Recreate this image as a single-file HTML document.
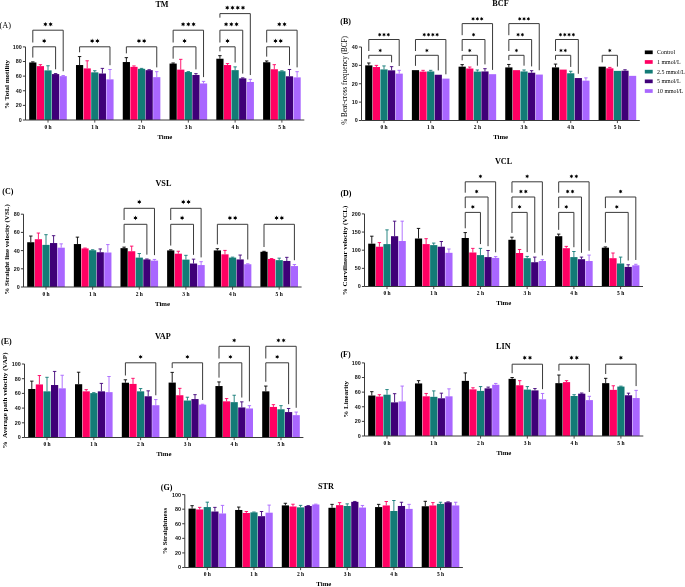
<!DOCTYPE html>
<html><head><meta charset="utf-8"><title>Figure</title>
<style>
html,body{margin:0;padding:0;background:#fff;}
body{width:685px;height:587px;overflow:hidden;}
svg{display:block;will-change:transform;filter:blur(0.3px);}
text{font-family:"Liberation Serif",serif;fill:#000;}
.yt{font-family:"Liberation Sans",sans-serif;font-weight:bold;font-size:5.4px;text-anchor:end;fill:#111;}
.xt{font-weight:bold;font-size:5.5px;text-anchor:middle;}
.tm{font-weight:bold;font-size:6.8px;text-anchor:middle;}
.ti{font-weight:bold;font-size:8.2px;text-anchor:middle;}
.le{font-weight:bold;font-size:8px;}
.leA{font-size:8.3px;}
.yl{font-weight:bold;font-size:7px;text-anchor:middle;}
.ylB{font-size:7.2px;text-anchor:middle;}
.ylE{font-weight:bold;font-size:7.1px;text-anchor:middle;}
.ylG{font-weight:bold;font-size:7.1px;text-anchor:middle;}
.lg{font-size:5.9px;}
</style></head>
<body>
<svg width="685" height="587" viewBox="0 0 685 587">
<rect width="685" height="587" fill="#fff"/>
<rect x="29.2" y="62.47" width="7.2" height="57.53" fill="#000000"/>
<path d="M32.8 62.47V61.89M31.1 61.89H34.5" stroke="#000000" stroke-width="0.9" fill="none"/>
<rect x="36.8" y="66.13" width="7.2" height="53.87" fill="#FF0062"/>
<path d="M40.4 66.13V64.66M38.7 64.66H42.1" stroke="#FF0062" stroke-width="0.9" fill="none"/>
<rect x="44.4" y="70.37" width="7.2" height="49.63" fill="#137B76"/>
<path d="M48 70.37V65.76M46.3 65.76H49.7" stroke="#137B76" stroke-width="0.9" fill="none"/>
<rect x="52" y="74.09" width="7.2" height="45.91" fill="#3F0078"/>
<path d="M55.6 74.09V73.58M53.9 73.58H57.3" stroke="#3F0078" stroke-width="0.9" fill="none"/>
<rect x="59.6" y="76.14" width="7.2" height="43.86" fill="#A966FF"/>
<path d="M63.2 76.14V75.56M61.5 75.56H64.9" stroke="#A966FF" stroke-width="0.9" fill="none"/>
<rect x="75.98" y="65.03" width="7.2" height="54.97" fill="#000000"/>
<path d="M79.58 65.03V56.55M77.88 56.55H81.28" stroke="#000000" stroke-width="0.9" fill="none"/>
<rect x="83.58" y="68.39" width="7.2" height="51.61" fill="#FF0062"/>
<path d="M87.18 68.39V60.79M85.48 60.79H88.88" stroke="#FF0062" stroke-width="0.9" fill="none"/>
<rect x="91.18" y="72.34" width="7.2" height="47.66" fill="#137B76"/>
<path d="M94.78 72.34V70.73M93.08 70.73H96.48" stroke="#137B76" stroke-width="0.9" fill="none"/>
<rect x="98.78" y="73.51" width="7.2" height="46.49" fill="#3F0078"/>
<path d="M102.38 73.51V68.39M100.68 68.39H104.08" stroke="#3F0078" stroke-width="0.9" fill="none"/>
<rect x="106.38" y="79.36" width="7.2" height="40.64" fill="#A966FF"/>
<path d="M109.98 79.36V69.49M108.28 69.49H111.68" stroke="#A966FF" stroke-width="0.9" fill="none"/>
<rect x="122.76" y="62.03" width="7.2" height="57.97" fill="#000000"/>
<path d="M126.36 62.03V57.65M124.66 57.65H128.06" stroke="#000000" stroke-width="0.9" fill="none"/>
<rect x="130.36" y="66.86" width="7.2" height="53.14" fill="#FF0062"/>
<path d="M133.96 66.86V65.91M132.26 65.91H135.66" stroke="#FF0062" stroke-width="0.9" fill="none"/>
<rect x="137.96" y="68.83" width="7.2" height="51.17" fill="#137B76"/>
<path d="M141.56 68.83V68.39M139.86 68.39H143.26" stroke="#137B76" stroke-width="0.9" fill="none"/>
<rect x="145.56" y="70.15" width="7.2" height="49.85" fill="#3F0078"/>
<path d="M149.16 70.15V69.71M147.46 69.71H150.86" stroke="#3F0078" stroke-width="0.9" fill="none"/>
<rect x="153.16" y="77.16" width="7.2" height="42.84" fill="#A966FF"/>
<path d="M156.76 77.16V71.68M155.06 71.68H158.46" stroke="#A966FF" stroke-width="0.9" fill="none"/>
<rect x="169.54" y="63.57" width="7.2" height="56.43" fill="#000000"/>
<path d="M173.14 63.57V62.98M171.44 62.98H174.84" stroke="#000000" stroke-width="0.9" fill="none"/>
<rect x="177.14" y="69.63" width="7.2" height="50.37" fill="#FF0062"/>
<path d="M180.74 69.63V59.33M179.04 59.33H182.44" stroke="#FF0062" stroke-width="0.9" fill="none"/>
<rect x="184.74" y="72.05" width="7.2" height="47.95" fill="#137B76"/>
<path d="M188.34 72.05V71.61M186.64 71.61H190.04" stroke="#137B76" stroke-width="0.9" fill="none"/>
<rect x="192.34" y="74.97" width="7.2" height="45.03" fill="#3F0078"/>
<path d="M195.94 74.97V73.65M194.24 73.65H197.64" stroke="#3F0078" stroke-width="0.9" fill="none"/>
<rect x="199.94" y="83.45" width="7.2" height="36.55" fill="#A966FF"/>
<path d="M203.54 83.45V81.4M201.84 81.4H205.24" stroke="#A966FF" stroke-width="0.9" fill="none"/>
<rect x="216.32" y="58.74" width="7.2" height="61.26" fill="#000000"/>
<path d="M219.92 58.74V55.67M218.22 55.67H221.62" stroke="#000000" stroke-width="0.9" fill="none"/>
<rect x="223.92" y="65.03" width="7.2" height="54.97" fill="#FF0062"/>
<path d="M227.52 65.03V63.57M225.82 63.57H229.22" stroke="#FF0062" stroke-width="0.9" fill="none"/>
<rect x="231.52" y="70.15" width="7.2" height="49.85" fill="#137B76"/>
<path d="M235.12 70.15V66.86M233.42 66.86H236.82" stroke="#137B76" stroke-width="0.9" fill="none"/>
<rect x="239.12" y="78.33" width="7.2" height="41.67" fill="#3F0078"/>
<path d="M242.72 78.33V77.89M241.02 77.89H244.42" stroke="#3F0078" stroke-width="0.9" fill="none"/>
<rect x="246.72" y="81.99" width="7.2" height="38.01" fill="#A966FF"/>
<path d="M250.32 81.99V79.36M248.62 79.36H252.02" stroke="#A966FF" stroke-width="0.9" fill="none"/>
<rect x="263.1" y="62.25" width="7.2" height="57.75" fill="#000000"/>
<path d="M266.7 62.25V60.94M265 60.94H268.4" stroke="#000000" stroke-width="0.9" fill="none"/>
<rect x="270.7" y="69.27" width="7.2" height="50.73" fill="#FF0062"/>
<path d="M274.3 69.27V64.66M272.6 64.66H276" stroke="#FF0062" stroke-width="0.9" fill="none"/>
<rect x="278.3" y="71.24" width="7.2" height="48.76" fill="#137B76"/>
<path d="M281.9 71.24V70.8M280.2 70.8H283.6" stroke="#137B76" stroke-width="0.9" fill="none"/>
<rect x="285.9" y="76.29" width="7.2" height="43.71" fill="#3F0078"/>
<path d="M289.5 76.29V69.49M287.8 69.49H291.2" stroke="#3F0078" stroke-width="0.9" fill="none"/>
<rect x="293.5" y="77.38" width="7.2" height="42.62" fill="#A966FF"/>
<path d="M297.1 77.38V71.68M295.4 71.68H298.8" stroke="#A966FF" stroke-width="0.9" fill="none"/>
<path d="M25.5 46.9V120H304.3" stroke="#3a3a3a" stroke-width="1" fill="none"/>
<path d="M22.9 120H25.5" stroke="#3a3a3a" stroke-width="1"/>
<text x="21.7" y="121.9" class="yt">0</text>
<path d="M22.9 105.38H25.5" stroke="#3a3a3a" stroke-width="1"/>
<text x="21.7" y="107.28" class="yt">20</text>
<path d="M22.9 90.76H25.5" stroke="#3a3a3a" stroke-width="1"/>
<text x="21.7" y="92.66" class="yt">40</text>
<path d="M22.9 76.14H25.5" stroke="#3a3a3a" stroke-width="1"/>
<text x="21.7" y="78.04" class="yt">60</text>
<path d="M22.9 61.52H25.5" stroke="#3a3a3a" stroke-width="1"/>
<text x="21.7" y="63.42" class="yt">80</text>
<path d="M22.9 46.9H25.5" stroke="#3a3a3a" stroke-width="1"/>
<text x="21.7" y="48.8" class="yt">100</text>
<path d="M48 120V122.6" stroke="#3a3a3a" stroke-width="0.9"/>
<text x="48" y="128.7" class="xt">0 h</text>
<path d="M94.78 120V122.6" stroke="#3a3a3a" stroke-width="0.9"/>
<text x="94.78" y="128.7" class="xt">1 h</text>
<path d="M141.56 120V122.6" stroke="#3a3a3a" stroke-width="0.9"/>
<text x="141.56" y="128.7" class="xt">2 h</text>
<path d="M188.34 120V122.6" stroke="#3a3a3a" stroke-width="0.9"/>
<text x="188.34" y="128.7" class="xt">3 h</text>
<path d="M235.12 120V122.6" stroke="#3a3a3a" stroke-width="0.9"/>
<text x="235.12" y="128.7" class="xt">4 h</text>
<path d="M281.9 120V122.6" stroke="#3a3a3a" stroke-width="0.9"/>
<text x="281.9" y="128.7" class="xt">5 h</text>
<text x="164.9" y="138.7" class="tm">Time</text>
<text x="162" y="6.6" class="ti">TM</text>
<text x="-0.4" y="28.2" class="leA">(A)</text>
<text transform="translate(9.2 84.4) rotate(-90)" x="0" y="0" class="yl">% Total motility</text>
<path d="M32.8 42.5V30.2H63.2V71.26" stroke="#3a3a3a" stroke-width="1" fill="none"/>
<polygon points="45.38,22 44.8,23.3 43.38,23.15 44.23,24.3 43.38,25.45 44.8,25.3 45.38,26.6 45.95,25.3 47.37,25.45 46.52,24.3 47.37,23.15 45.95,23.3"/>
<polygon points="50.62,22 50.05,23.3 48.63,23.15 49.48,24.3 48.63,25.45 50.05,25.3 50.62,26.6 51.2,25.3 52.62,25.45 51.77,24.3 52.62,23.15 51.2,23.3"/>
<path d="M32.8 57.59V46.8H55.6V69.28" stroke="#3a3a3a" stroke-width="1" fill="none"/>
<polygon points="44.2,38.6 43.62,39.9 42.21,39.75 43.05,40.9 42.21,42.05 43.62,41.9 44.2,43.2 44.77,41.9 46.19,42.05 45.35,40.9 46.19,39.75 44.78,39.9"/>
<path d="M79.58 52.25V46.8H109.98V65.19" stroke="#3a3a3a" stroke-width="1" fill="none"/>
<polygon points="92.16,38.6 91.58,39.9 90.16,39.75 91,40.9 90.16,42.05 91.58,41.9 92.16,43.2 92.73,41.9 94.15,42.05 93.31,40.9 94.15,39.75 92.73,39.9"/>
<polygon points="97.41,38.6 96.83,39.9 95.41,39.75 96.25,40.9 95.41,42.05 96.83,41.9 97.41,43.2 97.98,41.9 99.4,42.05 98.56,40.9 99.4,39.75 97.98,39.9"/>
<path d="M126.36 53.35V46.8H156.76V67.38" stroke="#3a3a3a" stroke-width="1" fill="none"/>
<polygon points="138.94,38.6 138.36,39.9 136.94,39.75 137.78,40.9 136.94,42.05 138.36,41.9 138.94,43.2 139.51,41.9 140.93,42.05 140.09,40.9 140.93,39.75 139.51,39.9"/>
<polygon points="144.19,38.6 143.61,39.9 142.19,39.75 143.03,40.9 142.19,42.05 143.61,41.9 144.19,43.2 144.76,41.9 146.18,42.05 145.34,40.9 146.18,39.75 144.76,39.9"/>
<path d="M173.14 42.5V30.2H203.54V77.1" stroke="#3a3a3a" stroke-width="1" fill="none"/>
<polygon points="183.09,22 182.51,23.3 181.1,23.15 181.94,24.3 181.1,25.45 182.51,25.3 183.09,26.6 183.66,25.3 185.08,25.45 184.24,24.3 185.08,23.15 183.66,23.3"/>
<polygon points="188.34,22 187.76,23.3 186.35,23.15 187.19,24.3 186.35,25.45 187.76,25.3 188.34,26.6 188.91,25.3 190.33,25.45 189.49,24.3 190.33,23.15 188.91,23.3"/>
<polygon points="193.59,22 193.01,23.3 191.6,23.15 192.44,24.3 191.6,25.45 193.01,25.3 193.59,26.6 194.16,25.3 195.58,25.45 194.74,24.3 195.58,23.15 194.16,23.3"/>
<path d="M173.14 58.68V46.8H195.94V69.35" stroke="#3a3a3a" stroke-width="1" fill="none"/>
<polygon points="184.54,38.6 183.96,39.9 182.55,39.75 183.39,40.9 182.55,42.05 183.96,41.9 184.54,43.2 185.11,41.9 186.53,42.05 185.69,40.9 186.53,39.75 185.11,39.9"/>
<path d="M219.92 17.7V13.6H250.32V75.06" stroke="#3a3a3a" stroke-width="1" fill="none"/>
<polygon points="227.25,5.4 226.67,6.7 225.25,6.55 226.09,7.7 225.25,8.85 226.67,8.7 227.25,10 227.82,8.7 229.24,8.85 228.4,7.7 229.24,6.55 227.82,6.7"/>
<polygon points="232.5,5.4 231.92,6.7 230.5,6.55 231.34,7.7 230.5,8.85 231.92,8.7 232.5,10 233.07,8.7 234.49,8.85 233.65,7.7 234.49,6.55 233.07,6.7"/>
<polygon points="237.75,5.4 237.17,6.7 235.75,6.55 236.59,7.7 235.75,8.85 237.17,8.7 237.75,10 238.32,8.7 239.74,8.85 238.9,7.7 239.74,6.55 238.32,6.7"/>
<polygon points="243,5.4 242.42,6.7 241,6.55 241.84,7.7 241,8.85 242.42,8.7 243,10 243.57,8.7 244.99,8.85 244.15,7.7 244.99,6.55 243.57,6.7"/>
<path d="M219.92 42.5V30.2H242.72V73.59" stroke="#3a3a3a" stroke-width="1" fill="none"/>
<polygon points="226.07,22 225.5,23.3 224.08,23.15 224.92,24.3 224.08,25.45 225.5,25.3 226.07,26.6 226.64,25.3 228.06,25.45 227.22,24.3 228.06,23.15 226.64,23.3"/>
<polygon points="231.32,22 230.75,23.3 229.33,23.15 230.17,24.3 229.33,25.45 230.75,25.3 231.32,26.6 231.89,25.3 233.31,25.45 232.47,24.3 233.31,23.15 231.89,23.3"/>
<polygon points="236.57,22 236,23.3 234.58,23.15 235.42,24.3 234.58,25.45 236,25.3 236.57,26.6 237.14,25.3 238.56,25.45 237.72,24.3 238.56,23.15 237.14,23.3"/>
<path d="M219.92 51.37V46.8H235.12V62.56" stroke="#3a3a3a" stroke-width="1" fill="none"/>
<polygon points="227.52,38.6 226.94,39.9 225.53,39.75 226.37,40.9 225.53,42.05 226.94,41.9 227.52,43.2 228.09,41.9 229.51,42.05 228.67,40.9 229.51,39.75 228.09,39.9"/>
<path d="M266.7 42.5V30.2H297.1V67.38" stroke="#3a3a3a" stroke-width="1" fill="none"/>
<polygon points="279.28,22 278.7,23.3 277.28,23.15 278.13,24.3 277.28,25.45 278.7,25.3 279.28,26.6 279.85,25.3 281.27,25.45 280.43,24.3 281.27,23.15 279.85,23.3"/>
<polygon points="284.53,22 283.95,23.3 282.53,23.15 283.38,24.3 282.53,25.45 283.95,25.3 284.53,26.6 285.1,25.3 286.52,25.45 285.68,24.3 286.52,23.15 285.1,23.3"/>
<path d="M266.7 56.64V46.8H289.5V65.19" stroke="#3a3a3a" stroke-width="1" fill="none"/>
<polygon points="275.48,38.6 274.9,39.9 273.48,39.75 274.33,40.9 273.48,42.05 274.9,41.9 275.48,43.2 276.05,41.9 277.47,42.05 276.62,40.9 277.47,39.75 276.05,39.9"/>
<polygon points="280.73,38.6 280.15,39.9 278.73,39.75 279.58,40.9 278.73,42.05 280.15,41.9 280.73,43.2 281.3,41.9 282.72,42.05 281.88,40.9 282.72,39.75 281.3,39.9"/>
<rect x="365.2" y="65.38" width="7.2" height="55.12" fill="#000000"/>
<path d="M368.8 65.38V62.99M367.1 62.99H370.5" stroke="#000000" stroke-width="0.9" fill="none"/>
<rect x="372.8" y="67.03" width="7.2" height="53.47" fill="#FF0062"/>
<path d="M376.4 67.03V65.38M374.7 65.38H378.1" stroke="#FF0062" stroke-width="0.9" fill="none"/>
<rect x="380.4" y="69.42" width="7.2" height="51.08" fill="#137B76"/>
<path d="M384 69.42V65.93M382.3 65.93H385.7" stroke="#137B76" stroke-width="0.9" fill="none"/>
<rect x="388" y="70.34" width="7.2" height="50.16" fill="#3F0078"/>
<path d="M391.6 70.34V66.66M389.9 66.66H393.3" stroke="#3F0078" stroke-width="0.9" fill="none"/>
<rect x="395.6" y="73.64" width="7.2" height="46.86" fill="#A966FF"/>
<path d="M399.2 73.64V70.34M397.5 70.34H400.9" stroke="#A966FF" stroke-width="0.9" fill="none"/>
<rect x="411.88" y="70.15" width="7.2" height="50.35" fill="#000000"/>
<rect x="419.48" y="71.62" width="7.2" height="48.88" fill="#FF0062"/>
<path d="M423.08 71.62V70.34M421.38 70.34H424.78" stroke="#FF0062" stroke-width="0.9" fill="none"/>
<rect x="427.08" y="71.44" width="7.2" height="49.06" fill="#137B76"/>
<path d="M430.68 71.44V70.34M428.98 70.34H432.38" stroke="#137B76" stroke-width="0.9" fill="none"/>
<rect x="434.68" y="74.75" width="7.2" height="45.75" fill="#3F0078"/>
<rect x="442.28" y="78.61" width="7.2" height="41.89" fill="#A966FF"/>
<rect x="458.56" y="66.66" width="7.2" height="53.84" fill="#000000"/>
<path d="M462.16 66.66V64.64M460.46 64.64H463.86" stroke="#000000" stroke-width="0.9" fill="none"/>
<rect x="466.16" y="68.5" width="7.2" height="52" fill="#FF0062"/>
<path d="M469.76 68.5V67.03M468.06 67.03H471.46" stroke="#FF0062" stroke-width="0.9" fill="none"/>
<rect x="473.76" y="71.62" width="7.2" height="48.88" fill="#137B76"/>
<path d="M477.36 71.62V69.97M475.66 69.97H479.06" stroke="#137B76" stroke-width="0.9" fill="none"/>
<rect x="481.36" y="71.44" width="7.2" height="49.06" fill="#3F0078"/>
<path d="M484.96 71.44V68.68M483.26 68.68H486.66" stroke="#3F0078" stroke-width="0.9" fill="none"/>
<rect x="488.96" y="74.19" width="7.2" height="46.31" fill="#A966FF"/>
<rect x="505.24" y="67.4" width="7.2" height="53.1" fill="#000000"/>
<path d="M508.84 67.4V64.46M507.14 64.46H510.54" stroke="#000000" stroke-width="0.9" fill="none"/>
<rect x="512.84" y="70.15" width="7.2" height="50.35" fill="#FF0062"/>
<rect x="520.44" y="71.44" width="7.2" height="49.06" fill="#137B76"/>
<path d="M524.04 71.44V69.97M522.34 69.97H525.74" stroke="#137B76" stroke-width="0.9" fill="none"/>
<rect x="528.04" y="72.72" width="7.2" height="47.78" fill="#3F0078"/>
<path d="M531.64 72.72V70.7M529.94 70.7H533.34" stroke="#3F0078" stroke-width="0.9" fill="none"/>
<rect x="535.64" y="74.56" width="7.2" height="45.94" fill="#A966FF"/>
<rect x="551.92" y="67.4" width="7.2" height="53.1" fill="#000000"/>
<path d="M555.52 67.4V64.09M553.82 64.09H557.22" stroke="#000000" stroke-width="0.9" fill="none"/>
<rect x="559.52" y="69.6" width="7.2" height="50.9" fill="#FF0062"/>
<rect x="567.12" y="73.28" width="7.2" height="47.22" fill="#137B76"/>
<path d="M570.72 73.28V71.25M569.02 71.25H572.42" stroke="#137B76" stroke-width="0.9" fill="none"/>
<rect x="574.72" y="78.05" width="7.2" height="42.45" fill="#3F0078"/>
<rect x="582.32" y="80.63" width="7.2" height="39.87" fill="#A966FF"/>
<path d="M585.92 80.63V77.87M584.22 77.87H587.62" stroke="#A966FF" stroke-width="0.9" fill="none"/>
<rect x="598.6" y="66.66" width="7.2" height="53.84" fill="#000000"/>
<rect x="606.2" y="68.31" width="7.2" height="52.19" fill="#FF0062"/>
<path d="M609.8 68.31V67.4M608.1 67.4H611.5" stroke="#FF0062" stroke-width="0.9" fill="none"/>
<rect x="613.8" y="70.89" width="7.2" height="49.61" fill="#137B76"/>
<rect x="621.4" y="70.7" width="7.2" height="49.8" fill="#3F0078"/>
<path d="M625 70.7V69.78M623.3 69.78H626.7" stroke="#3F0078" stroke-width="0.9" fill="none"/>
<rect x="629" y="75.85" width="7.2" height="44.65" fill="#A966FF"/>
<path d="M361.5 47V120.5H639.8" stroke="#3a3a3a" stroke-width="1" fill="none"/>
<path d="M358.9 120.5H361.5" stroke="#3a3a3a" stroke-width="1"/>
<text x="357.7" y="122.4" class="yt">0</text>
<path d="M358.9 102.12H361.5" stroke="#3a3a3a" stroke-width="1"/>
<text x="357.7" y="104.03" class="yt">10</text>
<path d="M358.9 83.75H361.5" stroke="#3a3a3a" stroke-width="1"/>
<text x="357.7" y="85.65" class="yt">20</text>
<path d="M358.9 65.38H361.5" stroke="#3a3a3a" stroke-width="1"/>
<text x="357.7" y="67.28" class="yt">30</text>
<path d="M358.9 47H361.5" stroke="#3a3a3a" stroke-width="1"/>
<text x="357.7" y="48.9" class="yt">40</text>
<path d="M384 120.5V123.1" stroke="#3a3a3a" stroke-width="0.9"/>
<text x="384" y="129.2" class="xt">0 h</text>
<path d="M430.68 120.5V123.1" stroke="#3a3a3a" stroke-width="0.9"/>
<text x="430.68" y="129.2" class="xt">1 h</text>
<path d="M477.36 120.5V123.1" stroke="#3a3a3a" stroke-width="0.9"/>
<text x="477.36" y="129.2" class="xt">2 h</text>
<path d="M524.04 120.5V123.1" stroke="#3a3a3a" stroke-width="0.9"/>
<text x="524.04" y="129.2" class="xt">3 h</text>
<path d="M570.72 120.5V123.1" stroke="#3a3a3a" stroke-width="0.9"/>
<text x="570.72" y="129.2" class="xt">4 h</text>
<path d="M617.4 120.5V123.1" stroke="#3a3a3a" stroke-width="0.9"/>
<text x="617.4" y="129.2" class="xt">5 h</text>
<text x="500.65" y="139.2" class="tm">Time</text>
<text x="500.5" y="5.9" class="ti">BCF</text>
<text x="340.3" y="23.6" class="le">(B)</text>
<text transform="translate(347.1 80.4) rotate(-90)" x="0" y="0" class="ylB">% Beat-cross frequency (BCF)</text>
<path d="M368.8 51V39.5H399.2V66.04" stroke="#3a3a3a" stroke-width="1" fill="none"/>
<polygon points="379.7,32.7 379.2,33.83 377.97,33.7 378.7,34.7 377.97,35.7 379.2,35.57 379.7,36.7 380.2,35.57 381.43,35.7 380.7,34.7 381.43,33.7 380.2,33.83"/>
<polygon points="384,32.7 383.5,33.83 382.27,33.7 383,34.7 382.27,35.7 383.5,35.57 384,36.7 384.5,35.57 385.73,35.7 385,34.7 385.73,33.7 384.5,33.83"/>
<polygon points="388.3,32.7 387.8,33.83 386.57,33.7 387.3,34.7 386.57,35.7 387.8,35.57 388.3,36.7 388.8,35.57 390.03,35.7 389.3,34.7 390.03,33.7 388.8,33.83"/>
<path d="M368.8 58.69V55.3H391.6V62.36" stroke="#3a3a3a" stroke-width="1" fill="none"/>
<polygon points="380.2,48.5 379.7,49.63 378.47,49.5 379.2,50.5 378.47,51.5 379.7,51.37 380.2,52.5 380.7,51.37 381.93,51.5 381.2,50.5 381.93,49.5 380.7,49.63"/>
<path d="M415.48 51V39.5H445.88V74.31" stroke="#3a3a3a" stroke-width="1" fill="none"/>
<polygon points="424.23,32.7 423.73,33.83 422.5,33.7 423.23,34.7 422.5,35.7 423.73,35.57 424.23,36.7 424.73,35.57 425.96,35.7 425.23,34.7 425.96,33.7 424.73,33.83"/>
<polygon points="428.53,32.7 428.03,33.83 426.8,33.7 427.53,34.7 426.8,35.7 428.03,35.57 428.53,36.7 429.03,35.57 430.26,35.7 429.53,34.7 430.26,33.7 429.03,33.83"/>
<polygon points="432.83,32.7 432.33,33.83 431.1,33.7 431.83,34.7 431.1,35.7 432.33,35.57 432.83,36.7 433.33,35.57 434.56,35.7 433.83,34.7 434.56,33.7 433.33,33.83"/>
<polygon points="437.13,32.7 436.63,33.83 435.4,33.7 436.13,34.7 435.4,35.7 436.63,35.57 437.13,36.7 437.63,35.57 438.86,35.7 438.13,34.7 438.86,33.7 437.63,33.83"/>
<path d="M415.48 65.85V55.3H438.28V70.45" stroke="#3a3a3a" stroke-width="1" fill="none"/>
<polygon points="426.88,48.5 426.38,49.63 425.15,49.5 425.88,50.5 425.15,51.5 426.38,51.37 426.88,52.5 427.38,51.37 428.61,51.5 427.88,50.5 428.61,49.5 427.38,49.63"/>
<path d="M462.16 35.2V23.6H492.56V69.89" stroke="#3a3a3a" stroke-width="1" fill="none"/>
<polygon points="473.06,16.8 472.56,17.93 471.33,17.8 472.06,18.8 471.33,19.8 472.56,19.67 473.06,20.8 473.56,19.67 474.79,19.8 474.06,18.8 474.79,17.8 473.56,17.93"/>
<polygon points="477.36,16.8 476.86,17.93 475.63,17.8 476.36,18.8 475.63,19.8 476.86,19.67 477.36,20.8 477.86,19.67 479.09,19.8 478.36,18.8 479.09,17.8 477.86,17.93"/>
<polygon points="481.66,16.8 481.16,17.93 479.93,17.8 480.66,18.8 479.93,19.8 481.16,19.67 481.66,20.8 482.16,19.67 483.39,19.8 482.66,18.8 483.39,17.8 482.16,17.93"/>
<path d="M462.16 51V39.5H484.96V64.38" stroke="#3a3a3a" stroke-width="1" fill="none"/>
<polygon points="473.56,32.7 473.06,33.83 471.83,33.7 472.56,34.7 471.83,35.7 473.06,35.57 473.56,36.7 474.06,35.57 475.29,35.7 474.56,34.7 475.29,33.7 474.06,33.83"/>
<path d="M462.16 60.34V55.3H477.36V65.67" stroke="#3a3a3a" stroke-width="1" fill="none"/>
<polygon points="469.76,48.5 469.26,49.63 468.03,49.5 468.76,50.5 468.03,51.5 469.26,51.37 469.76,52.5 470.26,51.37 471.49,51.5 470.76,50.5 471.49,49.5 470.26,49.63"/>
<path d="M508.84 35.2V23.6H539.24V70.26" stroke="#3a3a3a" stroke-width="1" fill="none"/>
<polygon points="519.74,16.8 519.24,17.93 518.01,17.8 518.74,18.8 518.01,19.8 519.24,19.67 519.74,20.8 520.24,19.67 521.47,19.8 520.74,18.8 521.47,17.8 520.24,17.93"/>
<polygon points="524.04,16.8 523.54,17.93 522.31,17.8 523.04,18.8 522.31,19.8 523.54,19.67 524.04,20.8 524.54,19.67 525.77,19.8 525.04,18.8 525.77,17.8 524.54,17.93"/>
<polygon points="528.34,16.8 527.84,17.93 526.61,17.8 527.34,18.8 526.61,19.8 527.84,19.67 528.34,20.8 528.84,19.67 530.07,19.8 529.34,18.8 530.07,17.8 528.84,17.93"/>
<path d="M508.84 51V39.5H531.64V66.4" stroke="#3a3a3a" stroke-width="1" fill="none"/>
<polygon points="518.09,32.7 517.59,33.83 516.36,33.7 517.09,34.7 516.36,35.7 517.59,35.57 518.09,36.7 518.59,35.57 519.82,35.7 519.09,34.7 519.82,33.7 518.59,33.83"/>
<polygon points="522.39,32.7 521.89,33.83 520.66,33.7 521.39,34.7 520.66,35.7 521.89,35.57 522.39,36.7 522.89,35.57 524.12,35.7 523.39,34.7 524.12,33.7 522.89,33.83"/>
<path d="M508.84 60.16V55.3H524.04V65.67" stroke="#3a3a3a" stroke-width="1" fill="none"/>
<polygon points="516.44,48.5 515.94,49.63 514.71,49.5 515.44,50.5 514.71,51.5 515.94,51.37 516.44,52.5 516.94,51.37 518.17,51.5 517.44,50.5 518.17,49.5 516.94,49.63"/>
<path d="M555.52 51V39.5H578.32V73.75" stroke="#3a3a3a" stroke-width="1" fill="none"/>
<polygon points="560.47,32.7 559.97,33.83 558.74,33.7 559.47,34.7 558.74,35.7 559.97,35.57 560.47,36.7 560.97,35.57 562.2,35.7 561.47,34.7 562.2,33.7 560.97,33.83"/>
<polygon points="564.77,32.7 564.27,33.83 563.04,33.7 563.77,34.7 563.04,35.7 564.27,35.57 564.77,36.7 565.27,35.57 566.5,35.7 565.77,34.7 566.5,33.7 565.27,33.83"/>
<polygon points="569.07,32.7 568.57,33.83 567.34,33.7 568.07,34.7 567.34,35.7 568.57,35.57 569.07,36.7 569.57,35.57 570.8,35.7 570.07,34.7 570.8,33.7 569.57,33.83"/>
<polygon points="573.37,32.7 572.87,33.83 571.64,33.7 572.37,34.7 571.64,35.7 572.87,35.57 573.37,36.7 573.87,35.57 575.1,35.7 574.37,34.7 575.1,33.7 573.87,33.83"/>
<path d="M555.52 59.79V55.3H570.72V66.95" stroke="#3a3a3a" stroke-width="1" fill="none"/>
<polygon points="560.97,48.5 560.47,49.63 559.24,49.5 559.97,50.5 559.24,51.5 560.47,51.37 560.97,52.5 561.47,51.37 562.7,51.5 561.97,50.5 562.7,49.5 561.47,49.63"/>
<polygon points="565.27,48.5 564.77,49.63 563.54,49.5 564.27,50.5 563.54,51.5 564.77,51.37 565.27,52.5 565.77,51.37 567,51.5 566.27,50.5 567,49.5 565.77,49.63"/>
<path d="M602.2 62.36V55.3H617.4V66.59" stroke="#3a3a3a" stroke-width="1" fill="none"/>
<polygon points="609.8,48.5 609.3,49.63 608.07,49.5 608.8,50.5 608.07,51.5 609.3,51.37 609.8,52.5 610.3,51.37 611.53,51.5 610.8,50.5 611.53,49.5 610.3,49.63"/>
<rect x="27.2" y="242.23" width="7.2" height="44.77" fill="#000000"/>
<path d="M30.8 242.23V236.04M29.1 236.04H32.5" stroke="#000000" stroke-width="0.9" fill="none"/>
<rect x="34.8" y="239.22" width="7.2" height="47.78" fill="#FF0062"/>
<path d="M38.4 239.22V233.04M36.7 233.04H40.1" stroke="#FF0062" stroke-width="0.9" fill="none"/>
<rect x="42.4" y="244.87" width="7.2" height="42.13" fill="#137B76"/>
<path d="M46 244.87V234.68M44.3 234.68H47.7" stroke="#137B76" stroke-width="0.9" fill="none"/>
<rect x="50" y="243.05" width="7.2" height="43.95" fill="#3F0078"/>
<path d="M53.6 243.05V235.68M51.9 235.68H55.3" stroke="#3F0078" stroke-width="0.9" fill="none"/>
<rect x="57.6" y="247.69" width="7.2" height="39.31" fill="#A966FF"/>
<path d="M61.2 247.69V243.87M59.5 243.87H62.9" stroke="#A966FF" stroke-width="0.9" fill="none"/>
<rect x="73.84" y="244.05" width="7.2" height="42.95" fill="#000000"/>
<path d="M77.44 244.05V237.13M75.74 237.13H79.14" stroke="#000000" stroke-width="0.9" fill="none"/>
<rect x="81.44" y="248.42" width="7.2" height="38.58" fill="#FF0062"/>
<path d="M85.04 248.42V248.05M83.34 248.05H86.74" stroke="#FF0062" stroke-width="0.9" fill="none"/>
<rect x="89.04" y="250.24" width="7.2" height="36.76" fill="#137B76"/>
<path d="M92.64 250.24V249.78M90.94 249.78H94.34" stroke="#137B76" stroke-width="0.9" fill="none"/>
<rect x="96.64" y="252.24" width="7.2" height="34.76" fill="#3F0078"/>
<path d="M100.24 252.24V248.96M98.54 248.96H101.94" stroke="#3F0078" stroke-width="0.9" fill="none"/>
<rect x="104.24" y="252.51" width="7.2" height="34.49" fill="#A966FF"/>
<path d="M107.84 252.51V244.59M106.14 244.59H109.54" stroke="#A966FF" stroke-width="0.9" fill="none"/>
<rect x="120.48" y="248.14" width="7.2" height="38.86" fill="#000000"/>
<path d="M124.08 248.14V247.14M122.38 247.14H125.78" stroke="#000000" stroke-width="0.9" fill="none"/>
<rect x="128.08" y="251.24" width="7.2" height="35.76" fill="#FF0062"/>
<path d="M131.68 251.24V246.14M129.98 246.14H133.38" stroke="#FF0062" stroke-width="0.9" fill="none"/>
<rect x="135.68" y="257.61" width="7.2" height="29.39" fill="#137B76"/>
<path d="M139.28 257.61V253.51M137.58 253.51H140.98" stroke="#137B76" stroke-width="0.9" fill="none"/>
<rect x="143.28" y="259.43" width="7.2" height="27.57" fill="#3F0078"/>
<path d="M146.88 259.43V258.97M145.18 258.97H148.58" stroke="#3F0078" stroke-width="0.9" fill="none"/>
<rect x="150.88" y="260.61" width="7.2" height="26.39" fill="#A966FF"/>
<path d="M154.48 260.61V259.43M152.78 259.43H156.18" stroke="#A966FF" stroke-width="0.9" fill="none"/>
<rect x="167.12" y="250.42" width="7.2" height="36.58" fill="#000000"/>
<path d="M170.72 250.42V249.87M169.02 249.87H172.42" stroke="#000000" stroke-width="0.9" fill="none"/>
<rect x="174.72" y="253.69" width="7.2" height="33.31" fill="#FF0062"/>
<path d="M178.32 253.69V251.24M176.62 251.24H180.02" stroke="#FF0062" stroke-width="0.9" fill="none"/>
<rect x="182.32" y="259.61" width="7.2" height="27.39" fill="#137B76"/>
<path d="M185.92 259.61V255.33M184.22 255.33H187.62" stroke="#137B76" stroke-width="0.9" fill="none"/>
<rect x="189.92" y="263.52" width="7.2" height="23.48" fill="#3F0078"/>
<path d="M193.52 263.52V259.15M191.82 259.15H195.22" stroke="#3F0078" stroke-width="0.9" fill="none"/>
<rect x="197.52" y="265.07" width="7.2" height="21.93" fill="#A966FF"/>
<path d="M201.12 265.07V261.7M199.42 261.7H202.82" stroke="#A966FF" stroke-width="0.9" fill="none"/>
<rect x="213.76" y="250.42" width="7.2" height="36.58" fill="#000000"/>
<path d="M217.36 250.42V248.69M215.66 248.69H219.06" stroke="#000000" stroke-width="0.9" fill="none"/>
<rect x="221.36" y="254.33" width="7.2" height="32.67" fill="#FF0062"/>
<path d="M224.96 254.33V250.42M223.26 250.42H226.66" stroke="#FF0062" stroke-width="0.9" fill="none"/>
<rect x="228.96" y="257.61" width="7.2" height="29.39" fill="#137B76"/>
<path d="M232.56 257.61V257.15M230.86 257.15H234.26" stroke="#137B76" stroke-width="0.9" fill="none"/>
<rect x="236.56" y="259.43" width="7.2" height="27.57" fill="#3F0078"/>
<path d="M240.16 259.43V255.06M238.46 255.06H241.86" stroke="#3F0078" stroke-width="0.9" fill="none"/>
<rect x="244.16" y="264.25" width="7.2" height="22.75" fill="#A966FF"/>
<path d="M247.76 264.25V263.8M246.06 263.8H249.46" stroke="#A966FF" stroke-width="0.9" fill="none"/>
<rect x="260.4" y="251.78" width="7.2" height="35.22" fill="#000000"/>
<path d="M264 251.78V251.33M262.3 251.33H265.7" stroke="#000000" stroke-width="0.9" fill="none"/>
<rect x="268" y="258.97" width="7.2" height="28.03" fill="#FF0062"/>
<path d="M271.6 258.97V258.52M269.9 258.52H273.3" stroke="#FF0062" stroke-width="0.9" fill="none"/>
<rect x="275.6" y="260.15" width="7.2" height="26.85" fill="#137B76"/>
<path d="M279.2 260.15V258.15M277.5 258.15H280.9" stroke="#137B76" stroke-width="0.9" fill="none"/>
<rect x="283.2" y="260.97" width="7.2" height="26.03" fill="#3F0078"/>
<path d="M286.8 260.97V257.33M285.1 257.33H288.5" stroke="#3F0078" stroke-width="0.9" fill="none"/>
<rect x="290.8" y="266.07" width="7.2" height="20.93" fill="#A966FF"/>
<path d="M294.4 266.07V264.52M292.7 264.52H296.1" stroke="#A966FF" stroke-width="0.9" fill="none"/>
<path d="M23.5 214.2V287H301.6" stroke="#3a3a3a" stroke-width="1" fill="none"/>
<path d="M20.9 287H23.5" stroke="#3a3a3a" stroke-width="1"/>
<text x="19.7" y="288.9" class="yt">0</text>
<path d="M20.9 268.8H23.5" stroke="#3a3a3a" stroke-width="1"/>
<text x="19.7" y="270.7" class="yt">20</text>
<path d="M20.9 250.6H23.5" stroke="#3a3a3a" stroke-width="1"/>
<text x="19.7" y="252.5" class="yt">40</text>
<path d="M20.9 232.4H23.5" stroke="#3a3a3a" stroke-width="1"/>
<text x="19.7" y="234.3" class="yt">60</text>
<path d="M20.9 214.2H23.5" stroke="#3a3a3a" stroke-width="1"/>
<text x="19.7" y="216.1" class="yt">80</text>
<path d="M46 287V289.6" stroke="#3a3a3a" stroke-width="0.9"/>
<text x="46" y="295.7" class="xt">0 h</text>
<path d="M92.64 287V289.6" stroke="#3a3a3a" stroke-width="0.9"/>
<text x="92.64" y="295.7" class="xt">1 h</text>
<path d="M139.28 287V289.6" stroke="#3a3a3a" stroke-width="0.9"/>
<text x="139.28" y="295.7" class="xt">2 h</text>
<path d="M185.92 287V289.6" stroke="#3a3a3a" stroke-width="0.9"/>
<text x="185.92" y="295.7" class="xt">3 h</text>
<path d="M232.56 287V289.6" stroke="#3a3a3a" stroke-width="0.9"/>
<text x="232.56" y="295.7" class="xt">4 h</text>
<path d="M279.2 287V289.6" stroke="#3a3a3a" stroke-width="0.9"/>
<text x="279.2" y="295.7" class="xt">5 h</text>
<text x="162.55" y="305.7" class="tm">Time</text>
<text x="163.4" y="186.4" class="ti">VSL</text>
<text x="2.3" y="193.8" class="le">(C)</text>
<text transform="translate(8.9 249.5) rotate(-90)" x="0" y="0" class="yl">% Straight line velocity (VSL)</text>
<path d="M124.08 220V208.3H154.48V255.13" stroke="#3a3a3a" stroke-width="1" fill="none"/>
<polygon points="139.28,199.6 138.71,200.9 137.29,200.75 138.13,201.9 137.29,203.05 138.71,202.9 139.28,204.2 139.85,202.9 141.27,203.05 140.43,201.9 141.27,200.75 139.85,200.9"/>
<path d="M124.08 242.84V224.3H146.88V254.67" stroke="#3a3a3a" stroke-width="1" fill="none"/>
<polygon points="135.48,215.6 134.91,216.9 133.49,216.75 134.33,217.9 133.49,219.05 134.91,218.9 135.48,220.2 136.05,218.9 137.47,219.05 136.63,217.9 137.47,216.75 136.05,216.9"/>
<path d="M170.72 220V208.3H201.12V257.4" stroke="#3a3a3a" stroke-width="1" fill="none"/>
<polygon points="183.27,199.6 182.7,200.9 181.28,200.75 182.12,201.9 181.28,203.05 182.7,202.9 183.27,204.2 183.84,202.9 185.26,203.05 184.42,201.9 185.26,200.75 183.84,200.9"/>
<polygon points="188.57,199.6 188,200.9 186.58,200.75 187.42,201.9 186.58,203.05 188,202.9 188.57,204.2 189.15,202.9 190.56,203.05 189.72,201.9 190.56,200.75 189.15,200.9"/>
<path d="M170.72 245.57V224.3H193.52V254.85" stroke="#3a3a3a" stroke-width="1" fill="none"/>
<polygon points="182.12,215.6 181.55,216.9 180.13,216.75 180.97,217.9 180.13,219.05 181.55,218.9 182.12,220.2 182.69,218.9 184.11,219.05 183.27,217.9 184.11,216.75 182.69,216.9"/>
<path d="M217.36 244.39V224.3H247.76V259.5" stroke="#3a3a3a" stroke-width="1" fill="none"/>
<polygon points="229.91,215.6 229.34,216.9 227.92,216.75 228.76,217.9 227.92,219.05 229.34,218.9 229.91,220.2 230.48,218.9 231.9,219.05 231.06,217.9 231.9,216.75 230.48,216.9"/>
<polygon points="235.21,215.6 234.64,216.9 233.22,216.75 234.06,217.9 233.22,219.05 234.64,218.9 235.21,220.2 235.78,218.9 237.2,219.05 236.36,217.9 237.2,216.75 235.78,216.9"/>
<path d="M264 247.03V224.3H294.4V260.22" stroke="#3a3a3a" stroke-width="1" fill="none"/>
<polygon points="276.55,215.6 275.98,216.9 274.56,216.75 275.4,217.9 274.56,219.05 275.98,218.9 276.55,220.2 277.12,218.9 278.54,219.05 277.7,217.9 278.54,216.75 277.12,216.9"/>
<polygon points="281.85,215.6 281.28,216.9 279.86,216.75 280.7,217.9 279.86,219.05 281.28,218.9 281.85,220.2 282.43,218.9 283.84,219.05 283,217.9 283.84,216.75 282.43,216.9"/>
<rect x="368.2" y="243.67" width="7.2" height="42.83" fill="#000000"/>
<path d="M371.8 243.67V236.19M370.1 236.19H373.5" stroke="#000000" stroke-width="0.9" fill="none"/>
<rect x="375.8" y="246.72" width="7.2" height="39.78" fill="#FF0062"/>
<path d="M379.4 246.72V242.58M377.7 242.58H381.1" stroke="#FF0062" stroke-width="0.9" fill="none"/>
<rect x="383.4" y="244.1" width="7.2" height="42.4" fill="#137B76"/>
<path d="M387 244.1V229.87M385.3 229.87H388.7" stroke="#137B76" stroke-width="0.9" fill="none"/>
<rect x="391" y="236.19" width="7.2" height="50.31" fill="#3F0078"/>
<path d="M394.6 236.19V221.16M392.9 221.16H396.3" stroke="#3F0078" stroke-width="0.9" fill="none"/>
<rect x="398.6" y="241.02" width="7.2" height="45.48" fill="#A966FF"/>
<path d="M402.2 241.02V221.16M400.5 221.16H403.9" stroke="#A966FF" stroke-width="0.9" fill="none"/>
<rect x="414.92" y="238.51" width="7.2" height="47.99" fill="#000000"/>
<path d="M418.52 238.51V228.42M416.82 228.42H420.22" stroke="#000000" stroke-width="0.9" fill="none"/>
<rect x="422.52" y="244.1" width="7.2" height="42.4" fill="#FF0062"/>
<path d="M426.12 244.1V238.69M424.42 238.69H427.82" stroke="#FF0062" stroke-width="0.9" fill="none"/>
<rect x="430.12" y="245.12" width="7.2" height="41.38" fill="#137B76"/>
<path d="M433.72 245.12V243.09M432.02 243.09H435.42" stroke="#137B76" stroke-width="0.9" fill="none"/>
<rect x="437.72" y="246.72" width="7.2" height="39.78" fill="#3F0078"/>
<path d="M441.32 246.72V241.49M439.62 241.49H443.02" stroke="#3F0078" stroke-width="0.9" fill="none"/>
<rect x="445.32" y="252.81" width="7.2" height="33.69" fill="#A966FF"/>
<path d="M448.92 252.81V249M447.22 249H450.62" stroke="#A966FF" stroke-width="0.9" fill="none"/>
<rect x="461.64" y="238" width="7.2" height="48.5" fill="#000000"/>
<path d="M465.24 238V232.59M463.54 232.59H466.94" stroke="#000000" stroke-width="0.9" fill="none"/>
<rect x="469.24" y="252.49" width="7.2" height="34.01" fill="#FF0062"/>
<path d="M472.84 252.49V248.38M471.14 248.38H474.54" stroke="#FF0062" stroke-width="0.9" fill="none"/>
<rect x="476.84" y="255.1" width="7.2" height="31.4" fill="#137B76"/>
<path d="M480.44 255.1V248.38M478.74 248.38H482.14" stroke="#137B76" stroke-width="0.9" fill="none"/>
<rect x="484.44" y="257.1" width="7.2" height="29.4" fill="#3F0078"/>
<path d="M488.04 257.1V250.49M486.34 250.49H489.74" stroke="#3F0078" stroke-width="0.9" fill="none"/>
<rect x="492.04" y="257.9" width="7.2" height="28.6" fill="#A966FF"/>
<path d="M495.64 257.9V256.59M493.94 256.59H497.34" stroke="#A966FF" stroke-width="0.9" fill="none"/>
<rect x="508.36" y="239.78" width="7.2" height="46.72" fill="#000000"/>
<path d="M511.96 239.78V237.2M510.26 237.2H513.66" stroke="#000000" stroke-width="0.9" fill="none"/>
<rect x="515.96" y="253" width="7.2" height="33.5" fill="#FF0062"/>
<path d="M519.56 253V249.47M517.86 249.47H521.26" stroke="#FF0062" stroke-width="0.9" fill="none"/>
<rect x="523.56" y="258.19" width="7.2" height="28.31" fill="#137B76"/>
<path d="M527.16 258.19V256.41M525.46 256.41H528.86" stroke="#137B76" stroke-width="0.9" fill="none"/>
<rect x="531.16" y="262.22" width="7.2" height="24.28" fill="#3F0078"/>
<path d="M534.76 262.22V257.1M533.06 257.1H536.46" stroke="#3F0078" stroke-width="0.9" fill="none"/>
<rect x="538.76" y="261.02" width="7.2" height="25.48" fill="#A966FF"/>
<path d="M542.36 261.02V259.71M540.66 259.71H544.06" stroke="#A966FF" stroke-width="0.9" fill="none"/>
<rect x="555.08" y="236.19" width="7.2" height="50.31" fill="#000000"/>
<path d="M558.68 236.19V234.12M556.98 234.12H560.38" stroke="#000000" stroke-width="0.9" fill="none"/>
<rect x="562.68" y="248.2" width="7.2" height="38.3" fill="#FF0062"/>
<path d="M566.28 248.2V246.39M564.58 246.39H567.98" stroke="#FF0062" stroke-width="0.9" fill="none"/>
<rect x="570.28" y="257.1" width="7.2" height="29.4" fill="#137B76"/>
<path d="M573.88 257.1V251.51M572.18 251.51H575.58" stroke="#137B76" stroke-width="0.9" fill="none"/>
<rect x="577.88" y="259.2" width="7.2" height="27.3" fill="#3F0078"/>
<path d="M581.48 259.2V257.1M579.78 257.1H583.18" stroke="#3F0078" stroke-width="0.9" fill="none"/>
<rect x="585.48" y="261.02" width="7.2" height="25.48" fill="#A966FF"/>
<path d="M589.08 261.02V255.1M587.38 255.1H590.78" stroke="#A966FF" stroke-width="0.9" fill="none"/>
<rect x="601.8" y="247.7" width="7.2" height="38.8" fill="#000000"/>
<path d="M605.4 247.7V246.93M603.7 246.93H607.1" stroke="#000000" stroke-width="0.9" fill="none"/>
<rect x="609.4" y="258.19" width="7.2" height="28.31" fill="#FF0062"/>
<path d="M613 258.19V253M611.3 253H614.7" stroke="#FF0062" stroke-width="0.9" fill="none"/>
<rect x="617" y="263.49" width="7.2" height="23.01" fill="#137B76"/>
<path d="M620.6 263.49V257.1M618.9 257.1H622.3" stroke="#137B76" stroke-width="0.9" fill="none"/>
<rect x="624.6" y="266.9" width="7.2" height="19.6" fill="#3F0078"/>
<path d="M628.2 266.9V264.79M626.5 264.79H629.9" stroke="#3F0078" stroke-width="0.9" fill="none"/>
<rect x="632.2" y="265.3" width="7.2" height="21.2" fill="#A966FF"/>
<path d="M635.8 265.3V264.28M634.1 264.28H637.5" stroke="#A966FF" stroke-width="0.9" fill="none"/>
<path d="M364.5 213.9V286.5H643" stroke="#3a3a3a" stroke-width="1" fill="none"/>
<path d="M361.9 286.5H364.5" stroke="#3a3a3a" stroke-width="1"/>
<text x="360.7" y="288.4" class="yt">0</text>
<path d="M361.9 268.35H364.5" stroke="#3a3a3a" stroke-width="1"/>
<text x="360.7" y="270.25" class="yt">50</text>
<path d="M361.9 250.2H364.5" stroke="#3a3a3a" stroke-width="1"/>
<text x="360.7" y="252.1" class="yt">100</text>
<path d="M361.9 232.05H364.5" stroke="#3a3a3a" stroke-width="1"/>
<text x="360.7" y="233.95" class="yt">150</text>
<path d="M361.9 213.9H364.5" stroke="#3a3a3a" stroke-width="1"/>
<text x="360.7" y="215.8" class="yt">200</text>
<path d="M387 286.5V289.1" stroke="#3a3a3a" stroke-width="0.9"/>
<text x="387" y="295.2" class="xt">0 h</text>
<path d="M433.72 286.5V289.1" stroke="#3a3a3a" stroke-width="0.9"/>
<text x="433.72" y="295.2" class="xt">1 h</text>
<path d="M480.44 286.5V289.1" stroke="#3a3a3a" stroke-width="0.9"/>
<text x="480.44" y="295.2" class="xt">2 h</text>
<path d="M527.16 286.5V289.1" stroke="#3a3a3a" stroke-width="0.9"/>
<text x="527.16" y="295.2" class="xt">3 h</text>
<path d="M573.88 286.5V289.1" stroke="#3a3a3a" stroke-width="0.9"/>
<text x="573.88" y="295.2" class="xt">4 h</text>
<path d="M620.6 286.5V289.1" stroke="#3a3a3a" stroke-width="0.9"/>
<text x="620.6" y="295.2" class="xt">5 h</text>
<text x="503.75" y="305.2" class="tm">Time</text>
<text x="503.6" y="163.6" class="ti">VCL</text>
<text x="340.4" y="196" class="le">(D)</text>
<text transform="translate(347.2 250.4) rotate(-90)" x="0" y="0" class="yl">% Curvilinear velocity (VCL)</text>
<path d="M465.24 192.7V181.8H495.64V252.29" stroke="#3a3a3a" stroke-width="1" fill="none"/>
<polygon points="480.44,174.2 479.92,175.39 478.62,175.25 479.39,176.3 478.62,177.35 479.92,177.21 480.44,178.4 480.96,177.21 482.26,177.35 481.49,176.3 482.26,175.25 480.96,175.39"/>
<path d="M465.24 208.1V197H488.04V246.19" stroke="#3a3a3a" stroke-width="1" fill="none"/>
<polygon points="476.64,189.4 476.12,190.59 474.82,190.45 475.59,191.5 474.82,192.55 476.12,192.41 476.64,193.6 477.16,192.41 478.46,192.55 477.69,191.5 478.46,190.45 477.16,190.59"/>
<path d="M465.24 228.29V212.4H480.44V244.08" stroke="#3a3a3a" stroke-width="1" fill="none"/>
<polygon points="472.84,204.8 472.32,205.99 471.02,205.85 471.79,206.9 471.02,207.95 472.32,207.81 472.84,209 473.37,207.81 474.66,207.95 473.89,206.9 474.66,205.85 473.37,205.99"/>
<path d="M511.96 192.7V181.8H542.36V255.41" stroke="#3a3a3a" stroke-width="1" fill="none"/>
<polygon points="527.16,174.2 526.64,175.39 525.34,175.25 526.11,176.3 525.34,177.35 526.64,177.21 527.16,178.4 527.69,177.21 528.98,177.35 528.21,176.3 528.98,175.25 527.69,175.39"/>
<path d="M511.96 208.1V197H534.76V252.8" stroke="#3a3a3a" stroke-width="1" fill="none"/>
<polygon points="520.91,189.4 520.38,190.59 519.09,190.45 519.86,191.5 519.09,192.55 520.38,192.41 520.91,193.6 521.43,192.41 522.73,192.55 521.96,191.5 522.73,190.45 521.43,190.59"/>
<polygon points="525.81,189.4 525.28,190.59 523.99,190.45 524.76,191.5 523.99,192.55 525.28,192.41 525.81,193.6 526.33,192.41 527.63,192.55 526.86,191.5 527.63,190.45 526.33,190.59"/>
<path d="M511.96 232.9V212.4H527.16V252.11" stroke="#3a3a3a" stroke-width="1" fill="none"/>
<polygon points="519.56,204.8 519.04,205.99 517.74,205.85 518.51,206.9 517.74,207.95 519.04,207.81 519.56,209 520.09,207.81 521.38,207.95 520.61,206.9 521.38,205.85 520.09,205.99"/>
<path d="M558.68 192.7V181.8H589.08V250.8" stroke="#3a3a3a" stroke-width="1" fill="none"/>
<polygon points="571.43,174.2 570.9,175.39 569.61,175.25 570.38,176.3 569.61,177.35 570.9,177.21 571.43,178.4 571.95,177.21 573.25,177.35 572.48,176.3 573.25,175.25 571.95,175.39"/>
<polygon points="576.33,174.2 575.8,175.39 574.51,175.25 575.28,176.3 574.51,177.35 575.8,177.21 576.33,178.4 576.85,177.21 578.15,177.35 577.38,176.3 578.15,175.25 576.85,175.39"/>
<path d="M558.68 208.1V197H581.48V252.8" stroke="#3a3a3a" stroke-width="1" fill="none"/>
<polygon points="567.63,189.4 567.1,190.59 565.81,190.45 566.58,191.5 565.81,192.55 567.1,192.41 567.63,193.6 568.15,192.41 569.45,192.55 568.68,191.5 569.45,190.45 568.15,190.59"/>
<polygon points="572.53,189.4 572,190.59 570.71,190.45 571.48,191.5 570.71,192.55 572,192.41 572.53,193.6 573.05,192.41 574.35,192.55 573.58,191.5 574.35,190.45 573.05,190.59"/>
<path d="M558.68 229.82V212.4H573.88V247.21" stroke="#3a3a3a" stroke-width="1" fill="none"/>
<polygon points="566.28,204.8 565.75,205.99 564.46,205.85 565.23,206.9 564.46,207.95 565.75,207.81 566.28,209 566.8,207.81 568.1,207.95 567.33,206.9 568.1,205.85 566.8,205.99"/>
<path d="M605.4 208.1V197H635.8V259.98" stroke="#3a3a3a" stroke-width="1" fill="none"/>
<polygon points="620.6,189.4 620.07,190.59 618.78,190.45 619.55,191.5 618.78,192.55 620.07,192.41 620.6,193.6 621.12,192.41 622.42,192.55 621.65,191.5 622.42,190.45 621.12,190.59"/>
<path d="M605.4 242.63V212.4H628.2V260.49" stroke="#3a3a3a" stroke-width="1" fill="none"/>
<polygon points="616.8,204.8 616.27,205.99 614.98,205.85 615.75,206.9 614.98,207.95 616.27,207.81 616.8,209 617.32,207.81 618.62,207.95 617.85,206.9 618.62,205.85 617.32,205.99"/>
<rect x="28.2" y="388.99" width="7.2" height="48.51" fill="#000000"/>
<path d="M31.8 388.99V381.13M30.1 381.13H33.5" stroke="#000000" stroke-width="0.9" fill="none"/>
<rect x="35.8" y="384.43" width="7.2" height="53.07" fill="#FF0062"/>
<path d="M39.4 384.43V375.54M37.7 375.54H41.1" stroke="#FF0062" stroke-width="0.9" fill="none"/>
<rect x="43.4" y="391.34" width="7.2" height="46.16" fill="#137B76"/>
<path d="M47 391.34V377.3M45.3 377.3H48.7" stroke="#137B76" stroke-width="0.9" fill="none"/>
<rect x="51" y="385.02" width="7.2" height="52.48" fill="#3F0078"/>
<path d="M54.6 385.02V371.42M52.9 371.42H56.3" stroke="#3F0078" stroke-width="0.9" fill="none"/>
<rect x="58.6" y="388.33" width="7.2" height="49.17" fill="#A966FF"/>
<path d="M62.2 388.33V375.25M60.5 375.25H63.9" stroke="#A966FF" stroke-width="0.9" fill="none"/>
<rect x="75" y="384.21" width="7.2" height="53.29" fill="#000000"/>
<path d="M78.6 384.21V372.23M76.9 372.23H80.3" stroke="#000000" stroke-width="0.9" fill="none"/>
<rect x="82.6" y="391.34" width="7.2" height="46.16" fill="#FF0062"/>
<path d="M86.2 391.34V389.65M84.5 389.65H87.9" stroke="#FF0062" stroke-width="0.9" fill="none"/>
<rect x="90.2" y="393.11" width="7.2" height="44.39" fill="#137B76"/>
<path d="M93.8 393.11V392.67M92.1 392.67H95.5" stroke="#137B76" stroke-width="0.9" fill="none"/>
<rect x="97.8" y="391.34" width="7.2" height="46.16" fill="#3F0078"/>
<path d="M101.4 391.34V383.4M99.7 383.4H103.1" stroke="#3F0078" stroke-width="0.9" fill="none"/>
<rect x="105.4" y="392.15" width="7.2" height="45.35" fill="#A966FF"/>
<path d="M109 392.15V376.5M107.3 376.5H110.7" stroke="#A966FF" stroke-width="0.9" fill="none"/>
<rect x="121.8" y="382.74" width="7.2" height="54.76" fill="#000000"/>
<path d="M125.4 382.74V379.8M123.7 379.8H127.1" stroke="#000000" stroke-width="0.9" fill="none"/>
<rect x="129.4" y="383.92" width="7.2" height="53.58" fill="#FF0062"/>
<path d="M133 383.92V378.33M131.3 378.33H134.7" stroke="#FF0062" stroke-width="0.9" fill="none"/>
<rect x="137" y="391.34" width="7.2" height="46.16" fill="#137B76"/>
<path d="M140.6 391.34V388.55M138.9 388.55H142.3" stroke="#137B76" stroke-width="0.9" fill="none"/>
<rect x="144.6" y="396.27" width="7.2" height="41.23" fill="#3F0078"/>
<path d="M148.2 396.27V390.83M146.5 390.83H149.9" stroke="#3F0078" stroke-width="0.9" fill="none"/>
<rect x="152.2" y="405.23" width="7.2" height="32.27" fill="#A966FF"/>
<path d="M155.8 405.23V399.57M154.1 399.57H157.5" stroke="#A966FF" stroke-width="0.9" fill="none"/>
<rect x="168.6" y="382.6" width="7.2" height="54.9" fill="#000000"/>
<path d="M172.2 382.6V372.38M170.5 372.38H173.9" stroke="#000000" stroke-width="0.9" fill="none"/>
<rect x="176.2" y="395.24" width="7.2" height="42.26" fill="#FF0062"/>
<path d="M179.8 395.24V388.33M178.1 388.33H181.5" stroke="#FF0062" stroke-width="0.9" fill="none"/>
<rect x="183.8" y="400.53" width="7.2" height="36.97" fill="#137B76"/>
<path d="M187.4 400.53V397.22M185.7 397.22H189.1" stroke="#137B76" stroke-width="0.9" fill="none"/>
<rect x="191.4" y="399.06" width="7.2" height="38.44" fill="#3F0078"/>
<path d="M195 399.06V394.65M193.3 394.65H196.7" stroke="#3F0078" stroke-width="0.9" fill="none"/>
<rect x="199" y="404.65" width="7.2" height="32.85" fill="#A966FF"/>
<path d="M202.6 404.65V404.28M200.9 404.28H204.3" stroke="#A966FF" stroke-width="0.9" fill="none"/>
<rect x="215.4" y="386.05" width="7.2" height="51.45" fill="#000000"/>
<path d="M219 386.05V381.93M217.3 381.93H220.7" stroke="#000000" stroke-width="0.9" fill="none"/>
<rect x="223" y="401.34" width="7.2" height="36.16" fill="#FF0062"/>
<path d="M226.6 401.34V398.55M224.9 398.55H228.3" stroke="#FF0062" stroke-width="0.9" fill="none"/>
<rect x="230.6" y="402.15" width="7.2" height="35.35" fill="#137B76"/>
<path d="M234.2 402.15V395.24M232.5 395.24H235.9" stroke="#137B76" stroke-width="0.9" fill="none"/>
<rect x="238.2" y="407.44" width="7.2" height="30.06" fill="#3F0078"/>
<path d="M241.8 407.44V401.85M240.1 401.85H243.5" stroke="#3F0078" stroke-width="0.9" fill="none"/>
<rect x="245.8" y="408.47" width="7.2" height="29.03" fill="#A966FF"/>
<path d="M249.4 408.47V405.67M247.7 405.67H251.1" stroke="#A966FF" stroke-width="0.9" fill="none"/>
<rect x="262.2" y="391.34" width="7.2" height="46.16" fill="#000000"/>
<path d="M265.8 391.34V386.05M264.1 386.05H267.5" stroke="#000000" stroke-width="0.9" fill="none"/>
<rect x="269.8" y="406.92" width="7.2" height="30.58" fill="#FF0062"/>
<path d="M273.4 406.92V404.65M271.7 404.65H275.1" stroke="#FF0062" stroke-width="0.9" fill="none"/>
<rect x="277.4" y="409.28" width="7.2" height="28.22" fill="#137B76"/>
<path d="M281 409.28V405.67M279.3 405.67H282.7" stroke="#137B76" stroke-width="0.9" fill="none"/>
<rect x="285" y="412.07" width="7.2" height="25.43" fill="#3F0078"/>
<path d="M288.6 412.07V408.47M286.9 408.47H290.3" stroke="#3F0078" stroke-width="0.9" fill="none"/>
<rect x="292.6" y="415.16" width="7.2" height="22.34" fill="#A966FF"/>
<path d="M296.2 415.16V412.07M294.5 412.07H297.9" stroke="#A966FF" stroke-width="0.9" fill="none"/>
<path d="M24.5 364V437.5H303.4" stroke="#3a3a3a" stroke-width="1" fill="none"/>
<path d="M21.9 437.5H24.5" stroke="#3a3a3a" stroke-width="1"/>
<text x="20.7" y="439.4" class="yt">0</text>
<path d="M21.9 422.8H24.5" stroke="#3a3a3a" stroke-width="1"/>
<text x="20.7" y="424.7" class="yt">20</text>
<path d="M21.9 408.1H24.5" stroke="#3a3a3a" stroke-width="1"/>
<text x="20.7" y="410" class="yt">40</text>
<path d="M21.9 393.4H24.5" stroke="#3a3a3a" stroke-width="1"/>
<text x="20.7" y="395.3" class="yt">60</text>
<path d="M21.9 378.7H24.5" stroke="#3a3a3a" stroke-width="1"/>
<text x="20.7" y="380.6" class="yt">80</text>
<path d="M21.9 364H24.5" stroke="#3a3a3a" stroke-width="1"/>
<text x="20.7" y="365.9" class="yt">100</text>
<path d="M47 437.5V440.1" stroke="#3a3a3a" stroke-width="0.9"/>
<text x="47" y="446.2" class="xt">0 h</text>
<path d="M93.8 437.5V440.1" stroke="#3a3a3a" stroke-width="0.9"/>
<text x="93.8" y="446.2" class="xt">1 h</text>
<path d="M140.6 437.5V440.1" stroke="#3a3a3a" stroke-width="0.9"/>
<text x="140.6" y="446.2" class="xt">2 h</text>
<path d="M187.4 437.5V440.1" stroke="#3a3a3a" stroke-width="0.9"/>
<text x="187.4" y="446.2" class="xt">3 h</text>
<path d="M234.2 437.5V440.1" stroke="#3a3a3a" stroke-width="0.9"/>
<text x="234.2" y="446.2" class="xt">4 h</text>
<path d="M281 437.5V440.1" stroke="#3a3a3a" stroke-width="0.9"/>
<text x="281" y="446.2" class="xt">5 h</text>
<text x="163.95" y="456.2" class="tm">Time</text>
<text x="162.8" y="339" class="ti">VAP</text>
<text x="1" y="343.6" class="le">(E)</text>
<text transform="translate(7.4 400.5) rotate(-90)" x="0" y="0" class="ylE">%&#160;&#160;Average path velocity (VAP)</text>
<path d="M125.4 375.5V362.8H155.8V395.27" stroke="#3a3a3a" stroke-width="1" fill="none"/>
<polygon points="140.6,354.7 140.05,355.95 138.69,355.8 139.5,356.9 138.69,358 140.05,357.85 140.6,359.1 141.15,357.85 142.51,358 141.7,356.9 142.51,355.8 141.15,355.95"/>
<path d="M172.2 368.08V362.8H202.6V399.98" stroke="#3a3a3a" stroke-width="1" fill="none"/>
<polygon points="187.4,354.7 186.85,355.95 185.49,355.8 186.3,356.9 185.49,358 186.85,357.85 187.4,359.1 187.95,357.85 189.31,358 188.5,356.9 189.31,355.8 187.95,355.95"/>
<path d="M219 358.5V346.3H249.4V401.37" stroke="#3a3a3a" stroke-width="1" fill="none"/>
<polygon points="234.2,338.2 233.65,339.45 232.29,339.3 233.1,340.4 232.29,341.5 233.65,341.35 234.2,342.6 234.75,341.35 236.11,341.5 235.3,340.4 236.11,339.3 234.75,339.45"/>
<path d="M219 377.63V362.8H241.8V397.55" stroke="#3a3a3a" stroke-width="1" fill="none"/>
<polygon points="230.4,354.7 229.85,355.95 228.49,355.8 229.3,356.9 228.49,358 229.85,357.85 230.4,359.1 230.95,357.85 232.31,358 231.5,356.9 232.31,355.8 230.95,355.95"/>
<path d="M265.8 358.5V346.3H296.2V407.77" stroke="#3a3a3a" stroke-width="1" fill="none"/>
<polygon points="278.38,338.2 277.82,339.45 276.47,339.3 277.27,340.4 276.47,341.5 277.82,341.35 278.38,342.6 278.93,341.35 280.28,341.5 279.48,340.4 280.28,339.3 278.93,339.45"/>
<polygon points="283.62,338.2 283.07,339.45 281.72,339.3 282.52,340.4 281.72,341.5 283.07,341.35 283.62,342.6 284.18,341.35 285.53,341.5 284.73,340.4 285.53,339.3 284.18,339.45"/>
<path d="M265.8 381.75V362.8H288.6V404.17" stroke="#3a3a3a" stroke-width="1" fill="none"/>
<polygon points="277.2,354.7 276.65,355.95 275.29,355.8 276.1,356.9 275.29,358 276.65,357.85 277.2,359.1 277.75,357.85 279.11,358 278.3,356.9 279.11,355.8 277.75,355.95"/>
<rect x="368.2" y="395.5" width="7.2" height="40.5" fill="#000000"/>
<path d="M371.8 395.5V391.7M370.1 391.7H373.5" stroke="#000000" stroke-width="0.9" fill="none"/>
<rect x="375.8" y="396.53" width="7.2" height="39.47" fill="#FF0062"/>
<path d="M379.4 396.53V394.7M377.7 394.7H381.1" stroke="#FF0062" stroke-width="0.9" fill="none"/>
<rect x="383.4" y="394.7" width="7.2" height="41.3" fill="#137B76"/>
<path d="M387 394.7V389.58M385.3 389.58H388.7" stroke="#137B76" stroke-width="0.9" fill="none"/>
<rect x="391" y="402.37" width="7.2" height="33.63" fill="#3F0078"/>
<path d="M394.6 402.37V393.68M392.9 393.68H396.3" stroke="#3F0078" stroke-width="0.9" fill="none"/>
<rect x="398.6" y="401.42" width="7.2" height="34.58" fill="#A966FF"/>
<path d="M402.2 401.42V386.07M400.5 386.07H403.9" stroke="#A966FF" stroke-width="0.9" fill="none"/>
<rect x="414.98" y="383.44" width="7.2" height="52.56" fill="#000000"/>
<path d="M418.58 383.44V380.66M416.88 380.66H420.28" stroke="#000000" stroke-width="0.9" fill="none"/>
<rect x="422.58" y="396.31" width="7.2" height="39.69" fill="#FF0062"/>
<path d="M426.18 396.31V393.46M424.48 393.46H427.88" stroke="#FF0062" stroke-width="0.9" fill="none"/>
<rect x="430.18" y="396.82" width="7.2" height="39.18" fill="#137B76"/>
<path d="M433.78 396.82V390.9M432.08 390.9H435.48" stroke="#137B76" stroke-width="0.9" fill="none"/>
<rect x="437.78" y="398.28" width="7.2" height="37.72" fill="#3F0078"/>
<path d="M441.38 398.28V393.16M439.68 393.16H443.08" stroke="#3F0078" stroke-width="0.9" fill="none"/>
<rect x="445.38" y="396.31" width="7.2" height="39.69" fill="#A966FF"/>
<path d="M448.98 396.31V388.85M447.28 388.85H450.68" stroke="#A966FF" stroke-width="0.9" fill="none"/>
<rect x="461.76" y="380.88" width="7.2" height="55.12" fill="#000000"/>
<path d="M465.36 380.88V372.91M463.66 372.91H467.06" stroke="#000000" stroke-width="0.9" fill="none"/>
<rect x="469.36" y="389.36" width="7.2" height="46.64" fill="#FF0062"/>
<path d="M472.96 389.36V387.75M471.26 387.75H474.66" stroke="#FF0062" stroke-width="0.9" fill="none"/>
<rect x="476.96" y="390.9" width="7.2" height="45.1" fill="#137B76"/>
<path d="M480.56 390.9V386.58M478.86 386.58H482.26" stroke="#137B76" stroke-width="0.9" fill="none"/>
<rect x="484.56" y="388.34" width="7.2" height="47.66" fill="#3F0078"/>
<path d="M488.16 388.34V387.1M486.46 387.1H489.86" stroke="#3F0078" stroke-width="0.9" fill="none"/>
<rect x="492.16" y="384.76" width="7.2" height="51.24" fill="#A966FF"/>
<path d="M495.76 384.76V383.44M494.06 383.44H497.46" stroke="#A966FF" stroke-width="0.9" fill="none"/>
<rect x="508.54" y="378.84" width="7.2" height="57.16" fill="#000000"/>
<path d="M512.14 378.84V377.52M510.44 377.52H513.84" stroke="#000000" stroke-width="0.9" fill="none"/>
<rect x="516.14" y="385.27" width="7.2" height="50.73" fill="#FF0062"/>
<path d="M519.74 385.27V380.66M518.04 380.66H521.44" stroke="#FF0062" stroke-width="0.9" fill="none"/>
<rect x="523.74" y="389.58" width="7.2" height="46.42" fill="#137B76"/>
<path d="M527.34 389.58V386.58M525.64 386.58H529.04" stroke="#137B76" stroke-width="0.9" fill="none"/>
<rect x="531.34" y="390.39" width="7.2" height="45.61" fill="#3F0078"/>
<path d="M534.94 390.39V388.56M533.24 388.56H536.64" stroke="#3F0078" stroke-width="0.9" fill="none"/>
<rect x="538.94" y="399.3" width="7.2" height="36.7" fill="#A966FF"/>
<path d="M542.54 399.3V393.46M540.84 393.46H544.24" stroke="#A966FF" stroke-width="0.9" fill="none"/>
<rect x="555.32" y="383.15" width="7.2" height="52.85" fill="#000000"/>
<path d="M558.92 383.15V375.03M557.22 375.03H560.62" stroke="#000000" stroke-width="0.9" fill="none"/>
<rect x="562.92" y="382.13" width="7.2" height="53.87" fill="#FF0062"/>
<path d="M566.52 382.13V380.66M564.82 380.66H568.22" stroke="#FF0062" stroke-width="0.9" fill="none"/>
<rect x="570.52" y="396.01" width="7.2" height="39.99" fill="#137B76"/>
<path d="M574.12 396.01V394.7M572.42 394.7H575.82" stroke="#137B76" stroke-width="0.9" fill="none"/>
<rect x="578.12" y="393.68" width="7.2" height="42.32" fill="#3F0078"/>
<path d="M581.72 393.68V393.02M580.02 393.02H583.42" stroke="#3F0078" stroke-width="0.9" fill="none"/>
<rect x="585.72" y="400.11" width="7.2" height="35.89" fill="#A966FF"/>
<path d="M589.32 400.11V396.31M587.62 396.31H591.02" stroke="#A966FF" stroke-width="0.9" fill="none"/>
<rect x="602.1" y="383.15" width="7.2" height="52.85" fill="#000000"/>
<path d="M605.7 383.15V378.32M604 378.32H607.4" stroke="#000000" stroke-width="0.9" fill="none"/>
<rect x="609.7" y="389.87" width="7.2" height="46.13" fill="#FF0062"/>
<path d="M613.3 389.87V385.78M611.6 385.78H615" stroke="#FF0062" stroke-width="0.9" fill="none"/>
<rect x="617.3" y="386.58" width="7.2" height="49.42" fill="#137B76"/>
<path d="M620.9 386.58V386.15M619.2 386.15H622.6" stroke="#137B76" stroke-width="0.9" fill="none"/>
<rect x="624.9" y="395.28" width="7.2" height="40.72" fill="#3F0078"/>
<path d="M628.5 395.28V393.16M626.8 393.16H630.2" stroke="#3F0078" stroke-width="0.9" fill="none"/>
<rect x="632.5" y="398.06" width="7.2" height="37.94" fill="#A966FF"/>
<path d="M636.1 398.06V390.39M634.4 390.39H637.8" stroke="#A966FF" stroke-width="0.9" fill="none"/>
<path d="M364.5 362.9V436H643.3" stroke="#3a3a3a" stroke-width="1" fill="none"/>
<path d="M361.9 436H364.5" stroke="#3a3a3a" stroke-width="1"/>
<text x="360.7" y="437.9" class="yt">0</text>
<path d="M361.9 421.38H364.5" stroke="#3a3a3a" stroke-width="1"/>
<text x="360.7" y="423.28" class="yt">20</text>
<path d="M361.9 406.76H364.5" stroke="#3a3a3a" stroke-width="1"/>
<text x="360.7" y="408.66" class="yt">40</text>
<path d="M361.9 392.14H364.5" stroke="#3a3a3a" stroke-width="1"/>
<text x="360.7" y="394.04" class="yt">60</text>
<path d="M361.9 377.52H364.5" stroke="#3a3a3a" stroke-width="1"/>
<text x="360.7" y="379.42" class="yt">80</text>
<path d="M361.9 362.9H364.5" stroke="#3a3a3a" stroke-width="1"/>
<text x="360.7" y="364.8" class="yt">100</text>
<path d="M387 436V438.6" stroke="#3a3a3a" stroke-width="0.9"/>
<text x="387" y="444.7" class="xt">0 h</text>
<path d="M433.78 436V438.6" stroke="#3a3a3a" stroke-width="0.9"/>
<text x="433.78" y="444.7" class="xt">1 h</text>
<path d="M480.56 436V438.6" stroke="#3a3a3a" stroke-width="0.9"/>
<text x="480.56" y="444.7" class="xt">2 h</text>
<path d="M527.34 436V438.6" stroke="#3a3a3a" stroke-width="0.9"/>
<text x="527.34" y="444.7" class="xt">3 h</text>
<path d="M574.12 436V438.6" stroke="#3a3a3a" stroke-width="0.9"/>
<text x="574.12" y="444.7" class="xt">4 h</text>
<path d="M620.9 436V438.6" stroke="#3a3a3a" stroke-width="0.9"/>
<text x="620.9" y="444.7" class="xt">5 h</text>
<text x="503.9" y="454.7" class="tm">Time</text>
<text x="503.4" y="349.2" class="ti">LIN</text>
<text x="340.4" y="356.7" class="le">(F)</text>
<text transform="translate(347.9 399.3) rotate(-90)" x="0" y="0" class="yl">% Linearity</text>
<path d="M512.14 373.22V364.2H542.54V389.16" stroke="#3a3a3a" stroke-width="1" fill="none"/>
<polygon points="524.69,355.5 524.14,356.75 522.78,356.6 523.59,357.7 522.78,358.8 524.14,358.65 524.69,359.9 525.24,358.65 526.6,358.8 525.79,357.7 526.6,356.6 525.24,356.75"/>
<polygon points="529.99,355.5 529.44,356.75 528.08,356.6 528.89,357.7 528.08,358.8 529.44,358.65 529.99,359.9 530.54,358.65 531.9,358.8 531.09,357.7 531.9,356.6 530.54,356.75"/>
<path d="M558.92 370.73V364.2H589.32V392.01" stroke="#3a3a3a" stroke-width="1" fill="none"/>
<polygon points="571.47,355.5 570.92,356.75 569.56,356.6 570.37,357.7 569.56,358.8 570.92,358.65 571.47,359.9 572.02,358.65 573.38,358.8 572.57,357.7 573.38,356.6 572.02,356.75"/>
<polygon points="576.77,355.5 576.22,356.75 574.86,356.6 575.67,357.7 574.86,358.8 576.22,358.65 576.77,359.9 577.32,358.65 578.68,358.8 577.87,357.7 578.68,356.6 577.32,356.75"/>
<path d="M605.7 374.02V364.2H636.1V386.09" stroke="#3a3a3a" stroke-width="1" fill="none"/>
<polygon points="620.9,355.5 620.35,356.75 618.99,356.6 619.8,357.7 618.99,358.8 620.35,358.65 620.9,359.9 621.45,358.65 622.81,358.8 622,357.7 622.81,356.6 621.45,356.75"/>
<rect x="188.5" y="508.6" width="7.2" height="58.9" fill="#000000"/>
<path d="M192.1 508.6V505.68M190.4 505.68H193.8" stroke="#000000" stroke-width="0.9" fill="none"/>
<rect x="196.1" y="509.47" width="7.2" height="58.03" fill="#FF0062"/>
<path d="M199.7 509.47V507.36M198 507.36H201.4" stroke="#FF0062" stroke-width="0.9" fill="none"/>
<rect x="203.7" y="507.07" width="7.2" height="60.43" fill="#137B76"/>
<path d="M207.3 507.07V502.18M205.6 502.18H209" stroke="#137B76" stroke-width="0.9" fill="none"/>
<rect x="211.3" y="511.51" width="7.2" height="55.99" fill="#3F0078"/>
<path d="M214.9 511.51V507.36M213.2 507.36H216.6" stroke="#3F0078" stroke-width="0.9" fill="none"/>
<rect x="218.9" y="513.48" width="7.2" height="54.02" fill="#A966FF"/>
<path d="M222.5 513.48V505.39M220.8 505.39H224.2" stroke="#A966FF" stroke-width="0.9" fill="none"/>
<rect x="235.14" y="509.98" width="7.2" height="57.52" fill="#000000"/>
<path d="M238.74 509.98V507.07M237.04 507.07H240.44" stroke="#000000" stroke-width="0.9" fill="none"/>
<rect x="242.74" y="512.97" width="7.2" height="54.53" fill="#FF0062"/>
<path d="M246.34 512.97V511.51M244.64 511.51H248.04" stroke="#FF0062" stroke-width="0.9" fill="none"/>
<rect x="250.34" y="512.39" width="7.2" height="55.11" fill="#137B76"/>
<path d="M253.94 512.39V512.02M252.24 512.02H255.64" stroke="#137B76" stroke-width="0.9" fill="none"/>
<rect x="257.94" y="516.18" width="7.2" height="51.32" fill="#3F0078"/>
<path d="M261.54 516.18V511.51M259.84 511.51H263.24" stroke="#3F0078" stroke-width="0.9" fill="none"/>
<rect x="265.54" y="512.68" width="7.2" height="54.82" fill="#A966FF"/>
<path d="M269.14 512.68V505.1M267.44 505.1H270.84" stroke="#A966FF" stroke-width="0.9" fill="none"/>
<rect x="281.78" y="505.39" width="7.2" height="62.11" fill="#000000"/>
<path d="M285.38 505.39V503.28M283.68 503.28H287.08" stroke="#000000" stroke-width="0.9" fill="none"/>
<rect x="289.38" y="506.48" width="7.2" height="61.02" fill="#FF0062"/>
<path d="M292.98 506.48V504.22M291.28 504.22H294.68" stroke="#FF0062" stroke-width="0.9" fill="none"/>
<rect x="296.98" y="507.36" width="7.2" height="60.14" fill="#137B76"/>
<path d="M300.58 507.36V505.39M298.88 505.39H302.28" stroke="#137B76" stroke-width="0.9" fill="none"/>
<rect x="304.58" y="505.97" width="7.2" height="61.53" fill="#3F0078"/>
<path d="M308.18 505.97V505.61M306.48 505.61H309.88" stroke="#3F0078" stroke-width="0.9" fill="none"/>
<rect x="312.18" y="504.51" width="7.2" height="62.99" fill="#A966FF"/>
<path d="M315.78 504.51V504.15M314.08 504.15H317.48" stroke="#A966FF" stroke-width="0.9" fill="none"/>
<rect x="328.42" y="507.79" width="7.2" height="59.71" fill="#000000"/>
<path d="M332.02 507.79V504.37M330.32 504.37H333.72" stroke="#000000" stroke-width="0.9" fill="none"/>
<rect x="336.02" y="505.17" width="7.2" height="62.33" fill="#FF0062"/>
<path d="M339.62 505.17V502.62M337.92 502.62H341.32" stroke="#FF0062" stroke-width="0.9" fill="none"/>
<rect x="343.62" y="505.97" width="7.2" height="61.53" fill="#137B76"/>
<path d="M347.22 505.97V503.86M345.52 503.86H348.92" stroke="#137B76" stroke-width="0.9" fill="none"/>
<rect x="351.22" y="501.82" width="7.2" height="65.68" fill="#3F0078"/>
<path d="M354.82 501.82V501.45M353.12 501.45H356.52" stroke="#3F0078" stroke-width="0.9" fill="none"/>
<rect x="358.82" y="507.58" width="7.2" height="59.92" fill="#A966FF"/>
<path d="M362.42 507.58V505.46M360.72 505.46H364.12" stroke="#A966FF" stroke-width="0.9" fill="none"/>
<rect x="375.06" y="507.07" width="7.2" height="60.43" fill="#000000"/>
<path d="M378.66 507.07V504.37M376.96 504.37H380.36" stroke="#000000" stroke-width="0.9" fill="none"/>
<rect x="382.66" y="505.46" width="7.2" height="62.04" fill="#FF0062"/>
<path d="M386.26 505.46V501.53M384.56 501.53H387.96" stroke="#FF0062" stroke-width="0.9" fill="none"/>
<rect x="390.26" y="511" width="7.2" height="56.5" fill="#137B76"/>
<path d="M393.86 511V500.5M392.16 500.5H395.56" stroke="#137B76" stroke-width="0.9" fill="none"/>
<rect x="397.86" y="505.97" width="7.2" height="61.53" fill="#3F0078"/>
<path d="M401.46 505.97V502.25M399.76 502.25H403.16" stroke="#3F0078" stroke-width="0.9" fill="none"/>
<rect x="405.46" y="508.89" width="7.2" height="58.61" fill="#A966FF"/>
<path d="M409.06 508.89V504.37M407.36 504.37H410.76" stroke="#A966FF" stroke-width="0.9" fill="none"/>
<rect x="421.7" y="506.26" width="7.2" height="61.24" fill="#000000"/>
<path d="M425.3 506.26V501.31M423.6 501.31H427" stroke="#000000" stroke-width="0.9" fill="none"/>
<rect x="429.3" y="505.46" width="7.2" height="62.04" fill="#FF0062"/>
<path d="M432.9 505.46V502.62M431.2 502.62H434.6" stroke="#FF0062" stroke-width="0.9" fill="none"/>
<rect x="436.9" y="503.86" width="7.2" height="63.64" fill="#137B76"/>
<path d="M440.5 503.86V502.25M438.8 502.25H442.2" stroke="#137B76" stroke-width="0.9" fill="none"/>
<rect x="444.5" y="502.25" width="7.2" height="65.25" fill="#3F0078"/>
<path d="M448.1 502.25V501.89M446.4 501.89H449.8" stroke="#3F0078" stroke-width="0.9" fill="none"/>
<rect x="452.1" y="505.46" width="7.2" height="62.04" fill="#A966FF"/>
<path d="M455.7 505.46V502.25M454 502.25H457.4" stroke="#A966FF" stroke-width="0.9" fill="none"/>
<path d="M184.8 494.6V567.5H462.9" stroke="#3a3a3a" stroke-width="1" fill="none"/>
<path d="M182.2 567.5H184.8" stroke="#3a3a3a" stroke-width="1"/>
<text x="181" y="569.4" class="yt">0</text>
<path d="M182.2 552.92H184.8" stroke="#3a3a3a" stroke-width="1"/>
<text x="181" y="554.82" class="yt">20</text>
<path d="M182.2 538.34H184.8" stroke="#3a3a3a" stroke-width="1"/>
<text x="181" y="540.24" class="yt">40</text>
<path d="M182.2 523.76H184.8" stroke="#3a3a3a" stroke-width="1"/>
<text x="181" y="525.66" class="yt">60</text>
<path d="M182.2 509.18H184.8" stroke="#3a3a3a" stroke-width="1"/>
<text x="181" y="511.08" class="yt">80</text>
<path d="M182.2 494.6H184.8" stroke="#3a3a3a" stroke-width="1"/>
<text x="181" y="496.5" class="yt">100</text>
<path d="M207.3 567.5V570.1" stroke="#3a3a3a" stroke-width="0.9"/>
<text x="207.3" y="576.2" class="xt">0 h</text>
<path d="M253.94 567.5V570.1" stroke="#3a3a3a" stroke-width="0.9"/>
<text x="253.94" y="576.2" class="xt">1 h</text>
<path d="M300.58 567.5V570.1" stroke="#3a3a3a" stroke-width="0.9"/>
<text x="300.58" y="576.2" class="xt">2 h</text>
<path d="M347.22 567.5V570.1" stroke="#3a3a3a" stroke-width="0.9"/>
<text x="347.22" y="576.2" class="xt">3 h</text>
<path d="M393.86 567.5V570.1" stroke="#3a3a3a" stroke-width="0.9"/>
<text x="393.86" y="576.2" class="xt">4 h</text>
<path d="M440.5 567.5V570.1" stroke="#3a3a3a" stroke-width="0.9"/>
<text x="440.5" y="576.2" class="xt">5 h</text>
<text x="323.85" y="586.2" class="tm">Time</text>
<text x="326" y="489.4" class="ti">STR</text>
<text x="160.8" y="489.8" class="le">(G)</text>
<text transform="translate(166.9 531) rotate(-90)" x="0" y="0" class="ylG">% Straightness</text>
<rect x="644.8" y="50.45" width="7.9" height="3.7" fill="#000000"/>
<text x="657.1" y="54.3" class="lg">Control</text>
<rect x="644.8" y="60.13" width="7.9" height="3.7" fill="#FF0062"/>
<text x="657.1" y="63.98" class="lg">1 mmol/L</text>
<rect x="644.8" y="69.81" width="7.9" height="3.7" fill="#137B76"/>
<text x="657.1" y="73.66" class="lg">2.5 mmol/L</text>
<rect x="644.8" y="79.49" width="7.9" height="3.7" fill="#3F0078"/>
<text x="657.1" y="83.34" class="lg">5 mmol/L</text>
<rect x="644.8" y="89.17" width="7.9" height="3.7" fill="#A966FF"/>
<text x="657.1" y="93.02" class="lg">10 mmol/L</text>
</svg>
</body></html>
